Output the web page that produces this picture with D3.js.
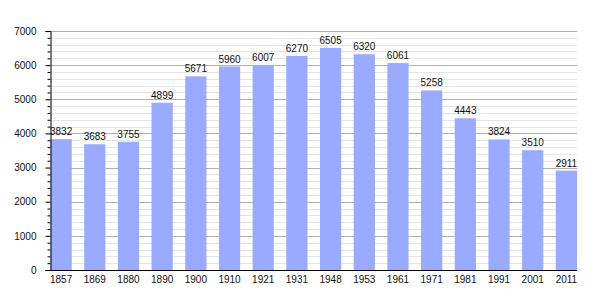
<!DOCTYPE html>
<html>
<head>
<meta charset="utf-8">
<script src="https://cdn.jsdelivr.net/npm/d3@7"></script>
<style>
body { margin: 0; background: #fff; }
text { font-family: "Liberation Sans", Arial, sans-serif; }
</style>
</head>
<body>
<div id="chart"></div>
<script>
// years and population counts
var years = ["1857", "1869", "1880", "1890", "1900", "1910", "1921", "1931", "1948", "1953", "1961", "1971", "1981", "1991", "2001", "2011"];
var population = [3832, 3683, 3755, 4899, 5671, 5960, 6007, 6270, 6505, 6320, 6061, 5258, 4443, 3824, 3510, 2911];
var yTicks = [0, 1000, 2000, 3000, 4000, 5000, 6000, 7000];

var w = 605, h = 300;
var plotLeft = 50.5, plotRight = 577, plotTop = 31, plotBottom = 270;

var svg = d3.select("#chart").append("svg").attr("width", w).attr("height", h);

var xScale = d3.scaleBand().domain(years).range([plotLeft, plotRight]).paddingInner(0.37).paddingOuter(0);
var yScale = d3.scaleLinear().domain([0, 7000]).range([plotBottom, plotTop]);

// minor grid lines every 200
var minor = d3.range(200, 7001, 200).filter(function(d) { return d % 1000 != 0; });
svg.selectAll(".minor").data(minor).enter().append("line")
    .attr("x1", plotLeft).attr("x2", plotRight)
    .attr("y1", function(d) { return Math.round(yScale(d)) + 0.5; })
    .attr("y2", function(d) { return Math.round(yScale(d)) + 0.5; })
    .attr("stroke", "#e4e4e4");

// major grid lines
svg.selectAll(".major").data(yTicks.slice(1)).enter().append("line")
    .attr("x1", plotLeft).attr("x2", plotRight)
    .attr("y1", function(d) { return Math.round(yScale(d)) + 0.5; })
    .attr("y2", function(d) { return Math.round(yScale(d)) + 0.5; })
    .attr("stroke", "#b0b0b0");

// bars
svg.selectAll("rect").data(population).enter().append("rect")
    .attr("x", function(d, i) { return xScale(years[i]); })
    .attr("y", function(d) { return yScale(d); })
    .attr("width", xScale.bandwidth())
    .attr("height", function(d) { return plotBottom - yScale(d); })
    .attr("fill", "#99aaff");

// value labels
svg.selectAll(".val").data(population).enter().append("text")
    .attr("x", function(d, i) { return xScale(years[i]) + xScale.bandwidth() / 2; })
    .attr("y", function(d) { return yScale(d) - 4; })
    .attr("text-anchor", "middle")
    .style("font-size", "10px")
    .style("fill", "#111")
    .text(function(d) { return d; });

// y axis with minor ticks
var yMinor = d3.axisLeft(yScale).tickValues(minor).tickSize(3).tickFormat("");
svg.append("g").attr("transform", "translate(" + plotLeft + ",0)").call(yMinor)
    .call(function(g) { g.select(".domain").remove(); });
var yAxis = d3.axisLeft(yScale).tickValues(yTicks).tickSize(5).tickPadding(9).tickFormat(d3.format("d"));
svg.append("g").attr("transform", "translate(" + plotLeft + ",0)").call(yAxis)
    .call(function(g) {
        g.selectAll("text").style("font-size", "10px").style("fill", "#111");
    });

// x axis
var xAxis = d3.axisBottom(xScale).tickSize(0).tickPadding(5);
svg.append("g").attr("transform", "translate(0," + (plotBottom + 0.5) + ")").call(xAxis)
    .call(function(g) {
        g.select(".domain").attr("d", "M" + (plotLeft - 5) + ",0H" + plotRight);
        g.selectAll("text").style("font-size", "10px").style("fill", "#111");
    });
</script>
</body>
</html>
